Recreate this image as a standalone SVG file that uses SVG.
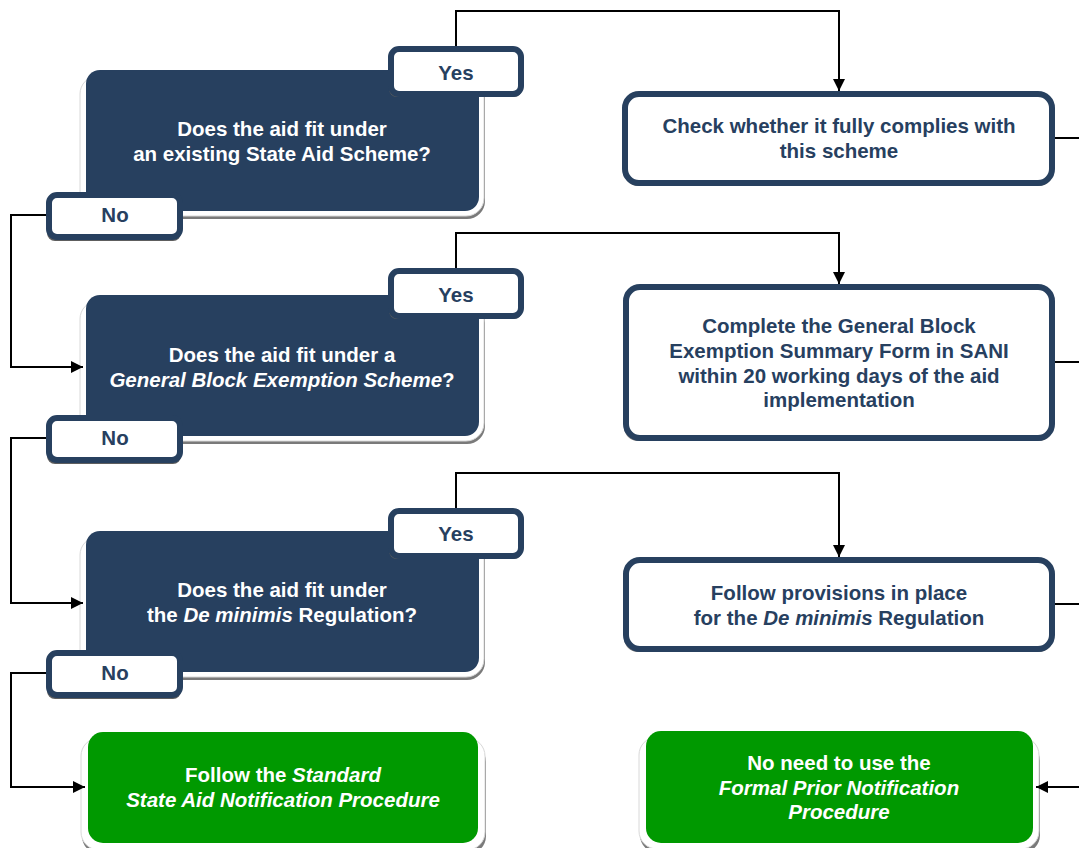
<svg xmlns="http://www.w3.org/2000/svg" width="1079" height="848" viewBox="0 0 1079 848">
<style>
text{font-family:"Liberation Sans",Arial,sans-serif;font-weight:bold;font-size:20.5px;text-anchor:middle}
.wt{fill:#ffffff}
.nt{fill:#27405f}
.dark{fill:#27405f}
.green{fill:#009900}
.back{fill:#ffffff;stroke:#d8d8d8;stroke-width:1}
.sh{fill:#7a7a7a}
.tab{fill:#ffffff;stroke:#27405f;stroke-width:6}
.tsh{fill:#5e5e5e}
.box{fill:#ffffff;stroke:#27405f;stroke-width:6}
.con{fill:none;stroke:#000000;stroke-width:2}
</style>
<defs>
<marker id="arr" markerUnits="userSpaceOnUse" markerWidth="14" markerHeight="14" refX="12" refY="6" orient="auto">
<path d="M0,0 L12,6 L0,12 Z" fill="#000000"/>
</marker>
</defs>

<g id="q1">
<rect class="sh" x="81" y="80" width="404" height="139" rx="18"/>
<rect class="back" x="80" y="76" width="404" height="140" rx="18"/>
<rect class="dark" x="86" y="70" width="393" height="141" rx="14"/>
<text class="wt" x="282" y="136">Does the aid fit under</text>
<text class="wt" x="282" y="161">an existing State Aid Scheme?</text>
</g>
<g id="q1-yes">
<rect class="tsh" x="389" y="52" width="133" height="45" rx="8"/>
<rect class="tab" x="391" y="49" width="130" height="45" rx="8"/>
<text class="nt" x="456" y="80">Yes</text>
</g>
<g id="q1-no">
<rect class="tsh" x="47" y="198" width="134" height="43" rx="8"/>
<rect class="tab" x="49" y="195" width="131" height="42" rx="8"/>
<text class="nt" x="115" y="222">No</text>
</g>

<g id="q2">
<rect class="sh" x="81" y="305" width="404" height="139" rx="18"/>
<rect class="back" x="80" y="301" width="404" height="140" rx="18"/>
<rect class="dark" x="86" y="295" width="393" height="141" rx="14"/>
<text class="wt" x="282" y="362">Does the aid fit under a</text>
<text class="wt" x="282" y="387"><tspan font-style="italic">General Block Exemption Scheme</tspan>?</text>
</g>
<g id="q2-yes">
<rect class="tsh" x="389" y="274" width="133" height="45" rx="8"/>
<rect class="tab" x="391" y="271" width="130" height="45" rx="8"/>
<text class="nt" x="456" y="302">Yes</text>
</g>
<g id="q2-no">
<rect class="tsh" x="47" y="421" width="134" height="43" rx="8"/>
<rect class="tab" x="49" y="418" width="131" height="42" rx="8"/>
<text class="nt" x="115" y="445">No</text>
</g>

<g id="q3">
<rect class="sh" x="81" y="541" width="404" height="139" rx="18"/>
<rect class="back" x="80" y="537" width="404" height="140" rx="18"/>
<rect class="dark" x="86" y="531" width="393" height="141" rx="14"/>
<text class="wt" x="282" y="597">Does the aid fit under</text>
<text class="wt" x="282" y="622">the <tspan font-style="italic">De minimis</tspan> Regulation?</text>
</g>
<g id="q3-yes">
<rect class="tsh" x="389" y="514" width="133" height="45" rx="8"/>
<rect class="tab" x="391" y="511" width="130" height="45" rx="8"/>
<text class="nt" x="456" y="541">Yes</text>
</g>
<g id="q3-no">
<rect class="tsh" x="47" y="656" width="134" height="43" rx="8"/>
<rect class="tab" x="49" y="653" width="131" height="42" rx="8"/>
<text class="nt" x="115" y="680">No</text>
</g>

<g id="a1">
<rect class="sh" x="624" y="97" width="429" height="89" rx="14"/>
<rect class="box" x="625" y="94" width="427" height="89" rx="14"/>
<text class="nt" x="839" y="133">Check whether it fully complies with</text>
<text class="nt" x="839" y="158">this scheme</text>
</g>
<g id="a2">
<rect class="sh" x="624" y="290" width="429" height="151" rx="14"/>
<rect class="box" x="626" y="287" width="426" height="151" rx="14"/>
<text class="nt" x="839" y="333">Complete the General Block</text>
<text class="nt" x="839" y="358">Exemption Summary Form in SANI</text>
<text class="nt" x="839" y="383">within 20 working days of the aid</text>
<text class="nt" x="839" y="407">implementation</text>
</g>
<g id="a3">
<rect class="sh" x="624" y="563" width="429" height="89" rx="14"/>
<rect class="box" x="626" y="560" width="426" height="89" rx="14"/>
<text class="nt" x="839" y="600">Follow provisions in place</text>
<text class="nt" x="839" y="625">for the <tspan font-style="italic">De minimis</tspan> Regulation</text>
</g>

<g id="end1">
<rect class="sh" x="82" y="744" width="404" height="110" rx="18"/>
<rect class="back" x="81" y="738" width="404" height="112" rx="18"/>
<rect class="green" x="88" y="732" width="390" height="111" rx="15"/>
<text class="wt" x="283" y="782">Follow the <tspan font-style="italic">Standard</tspan></text>
<text class="wt" x="283" y="807" font-style="italic">State Aid Notification Procedure</text>
</g>
<g id="end2">
<rect class="sh" x="640" y="743" width="400" height="110" rx="18"/>
<rect class="back" x="639" y="737" width="400" height="112" rx="18"/>
<rect class="green" x="646" y="731" width="387" height="112" rx="15"/>
<text class="wt" x="839" y="770">No need to use the</text>
<text class="wt" x="839" y="795" font-style="italic">Formal Prior Notification</text>
<text class="wt" x="839" y="819" font-style="italic">Procedure</text>
</g>

<g id="connectors">
<path class="con" d="M456 46 V11 H839 V91" marker-end="url(#arr)"/>
<path class="con" d="M456 268 V233 H839 V284" marker-end="url(#arr)"/>
<path class="con" d="M456 508 V473 H839 V557" marker-end="url(#arr)"/>
<path class="con" d="M46 215 H11 V367 H83" marker-end="url(#arr)"/>
<path class="con" d="M46 438 H11 V603 H83" marker-end="url(#arr)"/>
<path class="con" d="M46 673 H11 V787 H85" marker-end="url(#arr)"/>
<path class="con" d="M1055 138 H1079"/>
<path class="con" d="M1055 362 H1079"/>
<path class="con" d="M1055 604 H1079"/>
<path class="con" d="M1079 787 H1036" marker-end="url(#arr)"/>
</g>
</svg>
